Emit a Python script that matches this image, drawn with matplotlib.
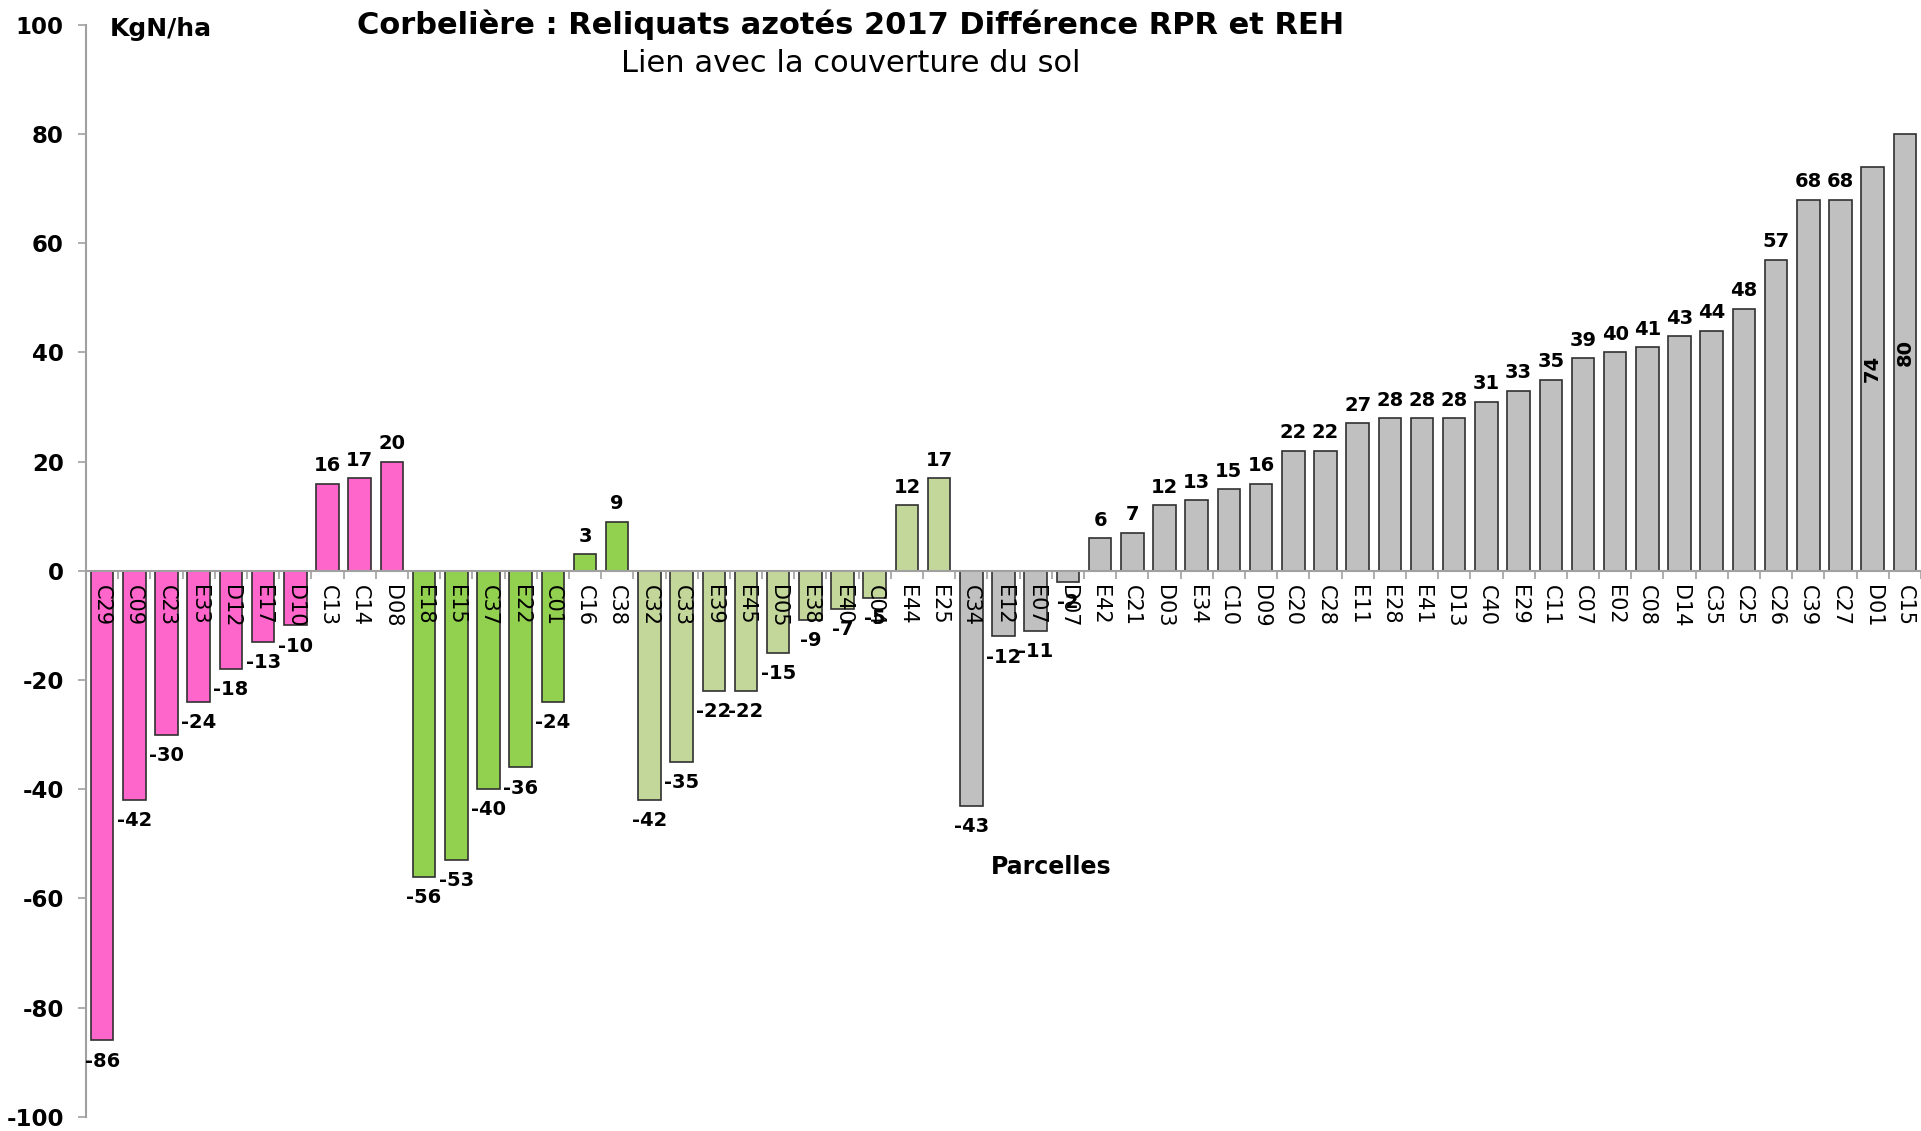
import numpy as np
import matplotlib
matplotlib.use("Agg")
import matplotlib.pyplot as plt

plt.rcParams["axes.unicode_minus"] = False

# parcelles par groupe de couverture du sol
parc_rose = ["C29", "C09", "C23", "E33", "D12", "E17", "D10", "C13", "C14", "D08"]
val_rose = [-86, -42, -30, -24, -18, -13, -10, 16, 17, 20]

parc_vert = ["E18", "E15", "C37", "E22", "C01", "C16", "C38"]
val_vert = [-56, -53, -40, -36, -24, 3, 9]

parc_vert_clair = ["C32", "C33", "E39", "E45", "D05", "E38", "E40", "C04", "E44", "E25"]
val_vert_clair = [-42, -35, -22, -22, -15, -9, -7, -5, 12, 17]

parc_gris = ["C34", "E12", "E07", "D07", "E42", "C21", "D03", "E34", "C10", "D09",
             "C20", "C28", "E11", "E28", "E41", "D13", "C40", "E29", "C11", "C07",
             "E02", "C08", "D14", "C35", "C25", "C26", "C39", "C27", "D01", "C15"]
val_gris = [-43, -12, -11, -2, 6, 7, 12, 13, 15, 16,
            22, 22, 27, 28, 28, 28, 31, 33, 35, 39,
            40, 41, 43, 44, 48, 57, 68, 68, 74, 80]

groupes = [
    (parc_rose, val_rose, "#FF66CC"),
    (parc_vert, val_vert, "#92D050"),
    (parc_vert_clair, val_vert_clair, "#C4D79B"),
    (parc_gris, val_gris, "#C0C0C0"),
]

parcelles = []
valeurs = []
couleurs = []
for p, v, c in groupes:
    parcelles += p
    valeurs += v
    couleurs += [c] * len(p)
x = np.arange(len(parcelles))

fig = plt.figure(figsize=(19.21, 11.31), dpi=100)
ax = fig.add_axes([0.0448, 0.0125, 0.9552, 0.9655])

ax.bar(x, valeurs, width=0.7, color=couleurs, edgecolor="#303030", linewidth=1.2, zorder=1)
ax.set_axisbelow(False)  # noms des parcelles par-dessus les barres

ax.set_xlim(-0.5, len(parcelles) - 0.5)
ax.set_ylim(-100, 100)
ax.set_yticks(np.arange(-100, 101, 20))
ax.tick_params(axis="y", labelsize=16.5, length=6, color="#A0A0A0", width=1.2, pad=10)
for t in ax.get_yticklabels():
    t.set_fontweight("bold")

# axe des x au niveau zero
ax.spines["bottom"].set_position(("data", 0))
ax.spines["bottom"].set_color("#A0A0A0")
ax.spines["bottom"].set_linewidth(1.5)
ax.spines["left"].set_color("#A0A0A0")
ax.spines["left"].set_linewidth(1.5)
ax.spines["top"].set_visible(False)
ax.spines["right"].set_visible(False)
ax.set_xticks(x)
ax.set_xticklabels(parcelles, rotation=-90, fontsize=15)
ax.tick_params(axis="x", length=0, pad=10)
ax.set_xticks(np.arange(-0.5, len(parcelles), 1), minor=True)
ax.tick_params(axis="x", which="minor", length=6, color="#A0A0A0", width=1.2, direction="out")

# etiquettes de valeurs
for xi, v in zip(x, valeurs):
    if v >= 70:
        ax.text(xi, v / 2, f"{v}", rotation=90, ha="center", va="center",
                fontsize=14, fontweight="bold", zorder=3)
    elif v >= 0:
        ax.annotate(f"{v}", (xi, v), xytext=(0, 6), textcoords="offset points",
                    ha="center", va="bottom", fontsize=14, fontweight="bold", zorder=3)
    else:
        ax.annotate(f"{v}", (xi, v), xytext=(0, -8), textcoords="offset points",
                    ha="center", va="top", fontsize=14, fontweight="bold", zorder=3)

fig.text(0.443, 0.978, "Corbelière : Reliquats azotés 2017 Différence RPR et REH",
         ha="center", va="center", fontsize=22, fontweight="bold")
fig.text(0.443, 0.944, "Lien avec la couverture du sol", ha="center", va="center", fontsize=22)
fig.text(0.057, 0.974, "KgN/ha", ha="left", va="center", fontsize=18, fontweight="bold")
fig.text(0.547, 0.233, "Parcelles", ha="center", va="center", fontsize=17, fontweight="bold")

fig.savefig("out.png", dpi=100)
